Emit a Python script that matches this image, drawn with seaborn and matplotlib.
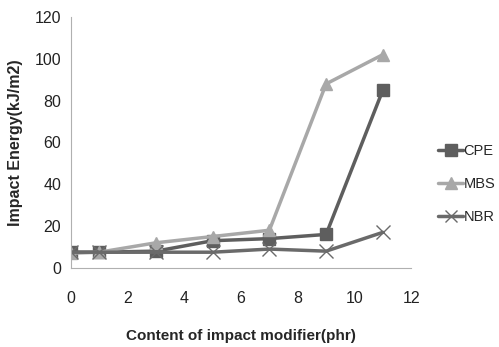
import matplotlib
matplotlib.use("Agg")
import matplotlib.pyplot as plt
import seaborn as sns
import pandas as pd
from matplotlib.lines import Line2D

x_vals = [0, 1, 3, 5, 7, 9, 11]
cpe = [7.5, 7.5, 8, 13, 14, 16, 85]
mbs = [7, 7.5, 12, 15, 18, 88, 102]
nbr = [7.5, 7.5, 7.5, 7.5, 9, 8, 17]
series_names = ["CPE", "MBS", "NBR"]
x_ticks = [0, 2, 4, 6, 8, 10, 12]
y_ticks = [0, 20, 40, 60, 80, 100, 120]

sns.set_style("white")
plt.rcParams['font.family'] = ['Liberation Sans', 'DejaVu Sans']

data = {"CPE": cpe, "MBS": mbs, "NBR": nbr}
palette = {"CPE": "#5e5e5e", "MBS": "#a8a8a8", "NBR": "#6a6a6a"}
markers = {"CPE": "s", "MBS": "^", "NBR": "x"}
msizes = {"CPE": 9, "MBS": 9, "NBR": 10}

fig = plt.figure(figsize=(4.99, 3.47), dpi=100)
ax = fig.add_axes([0.142, 0.228, 0.682, 0.723])
for n in series_names:
    df = pd.DataFrame({"x": x_vals, "y": data[n]})
    sns.lineplot(data=df, x="x", y="y", color=palette[n], marker=markers[n],
                 markersize=msizes[n], markeredgecolor=palette[n], markeredgewidth=1,
                 linewidth=2.5, ax=ax, legend=False)

ax.set_xlim(0, 12)
ax.set_ylim(0, 120)
ax.set_xticks(x_ticks)
ax.set_yticks(y_ticks)
ax.tick_params(axis='x', direction='out', length=5, color='#b0b0b0', pad=12, labelsize=11.5, labelcolor='#222222')
ax.tick_params(axis='y', direction='out', length=4, color='#b0b0b0', pad=3, labelsize=11.5, labelcolor='#222222')
for s in ["top", "right"]:
    ax.spines[s].set_visible(False)
for s in ["left", "bottom"]:
    ax.spines[s].set_color('#b0b0b0')
    ax.spines[s].set_linewidth(0.8)
ax.set_xlabel("Content of impact modifier(phr)", fontweight='bold', fontsize=11, labelpad=16)
ax.set_ylabel("Impact Energy(kJ/m2)", fontweight='bold', fontsize=11.5, labelpad=8)

handles = [Line2D([], [], color=palette[n], marker=markers[n], lw=2.5, markersize=8,
                  markeredgecolor=palette[n]) for n in series_names]
fig.legend(handles, series_names, loc='center left', bbox_to_anchor=(0.878, 0.47),
           frameon=False, fontsize=10.5, handlelength=1.7, handletextpad=0.05,
           labelspacing=1.3, borderaxespad=0, borderpad=0)

fig.savefig("out.png", dpi=100)
